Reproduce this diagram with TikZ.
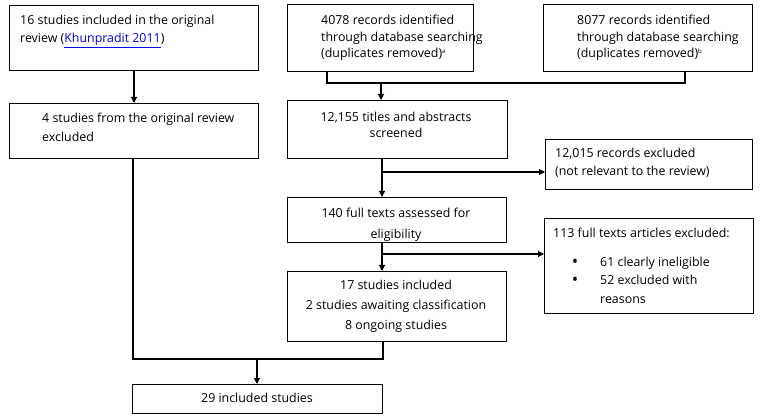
\documentclass[tikz,border=0pt]{standalone}
\usepackage{fontspec}
\setmainfont{Open Sans}
\usetikzlibrary{arrows.meta}
\definecolor{linkblue}{RGB}{0,0,238}
\newcommand{\fs}[1]{\fontsize{12.4}{#1}\selectfont}
\tikzset{
  x=1pt, y=-1pt,
  box/.style={draw=black, line width=1.1pt, rectangle, inner sep=0pt, anchor=north west},
  txt/.style={inner sep=0pt, anchor=base west, align=left, font=\fs{17}},
  ctxt/.style={inner sep=0pt, anchor=base, align=center, font=\fs{17}},
  bullet/.style={inner sep=0pt, anchor=base, font=\fontsize{17}{17}\selectfont},
  conn/.style={line width=1.1pt, draw=black},
  arr/.style={conn, -{Triangle[length=6pt,width=6pt]}},
}
\newcommand{\boxat}[5]{\node[box, minimum width=#4-#2, minimum height=#5-#3] (#1) at (#2,#3) {};}
\newcommand{\supa}[1]{\textsuperscript{\fontsize{6}{6}\selectfont #1}}
\begin{document}
\begin{tikzpicture}
\useasboundingbox (0,0) rectangle (764,417);
% boxes
\boxat{A}{9}{5}{258}{70}
\boxat{B}{9}{103}{258}{158}
\boxat{C}{287}{4}{473}{71}
\boxat{D}{543}{4}{752}{71}
\boxat{E}{287}{100}{507}{158}
\boxat{F}{545}{139}{752}{189}
\boxat{G}{287}{197}{506}{242}
\boxat{F2}{544}{218}{753}{313}
\boxat{H}{287}{271}{506}{341}
\boxat{I}{132}{384}{382}{413}
% texts (anchor = baseline of the last line)
\node[txt, font=\fs{17.5}] (tA) at (20,42.5) {16 studies included in the original\\review ({\color{linkblue}\underline{Khunpradit 2011}})};
\node[txt, font=\fs{18.5}] (tB) at (42,141.5) {4 studies from the original review\\excluded};
\node[txt, font=\fs{16.5}] (tC) at (321,58) {4078 records identified\\through database searching\\(duplicates removed)\supa{a}};
\node[txt, font=\fs{16.5}] (tD) at (577,58) {8077 records identified\\through database searching\\(duplicates removed)\supa{b}};
\node[ctxt, font=\fs{16}] (tE) at (396,138) {12,155 titles and abstracts\\screened};
\node[txt, font=\fs{18}] (tF) at (555,176) {12,015 records excluded\\(not relevant to the review)};
\begin{scope}
\clip (287.5,197.5) rectangle (505.5,241.5);
\node[ctxt, font=\fs{21}] (tG) at (396,238.5) {140 full texts assessed for\\eligibility};
\end{scope}
\node[txt] (tF2) at (553,237) {113 full texts articles excluded:};
\node[txt, font=\fs{18.5}] (tF2b) at (600,303) {61 clearly ineligible\\52 excluded with\\reasons};
\node[bullet] (bu1) at (575,267.5) {•};
\node[bullet] (bu2) at (575,286) {•};
\node[ctxt, font=\fs{20}] (tH) at (396,329.5) {17 studies included\\2 studies awaiting classification\\8 ongoing studies};
\node[ctxt] (tI) at (257,402) {29 included studies};
% connectors
\draw[arr] (A.south -| 134,0) -- (B.north -| 134,0);
\coordinate (cL) at (327,83);
\coordinate (cR) at (685,83);
\coordinate (cM) at (381,83);
\draw[conn] (C.south -| cL) -- (cL) -- (cR) -- (D.south -| cR);
\draw[arr] (cM) -- (E.north -| cM);
\coordinate (e1) at (382,172);
\draw[arr] (E.south -| e1) -- (G.north -| e1);
\draw[arr] (e1) -- (F.west |- e1);
\coordinate (g1) at (382,254);
\draw[arr] (G.south -| g1) -- (H.north -| g1);
\draw[arr] (g1) -- (F2.west |- g1);
\coordinate (h1) at (383,359);
\coordinate (b1) at (133,359);
\coordinate (m1) at (257,359);
\draw[conn] (H.south -| h1) -- (h1) -- (b1) -- (B.south -| b1);
\draw[arr] (m1) -- (I.north -| m1);
\end{tikzpicture}
\end{document}
